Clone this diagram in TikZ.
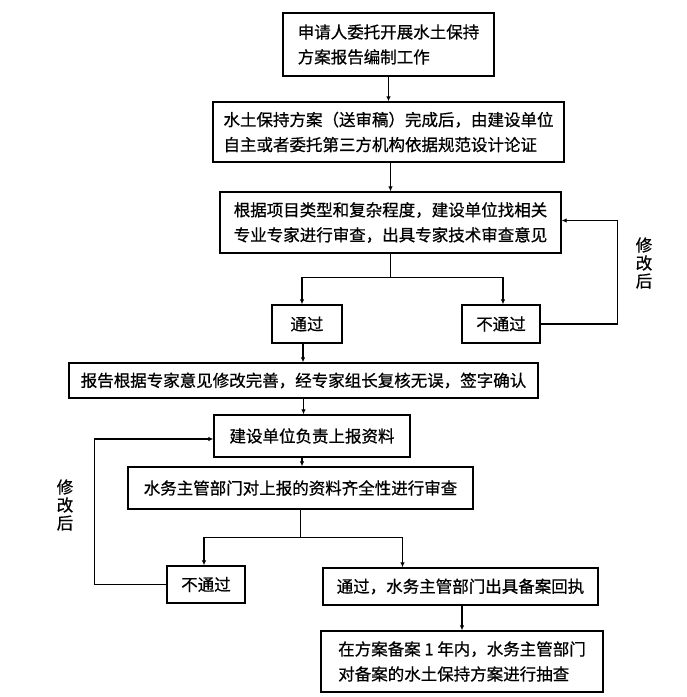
\documentclass[tikz,border=0pt]{standalone}
\usepackage{fontspec}
\newfontfamily\cjk[FakeBold=0.7]{Noto Sans CJK SC}
\usetikzlibrary{arrows.meta,calc}
\begin{document}
\begin{tikzpicture}[x=1pt,y=-1pt,
  box/.style={draw=black,line width=1.3pt,inner sep=0pt,align=left,
    font=\cjk\fontsize{16.5}{25}\selectfont},
  lbl/.style={inner sep=0pt,align=center,font=\cjk\fontsize{16.5}{18}\selectfont},
  arr/.style={line width=1.3pt,-{Latex[length=5pt,width=4.5pt]}},
  ln/.style={line width=1.3pt}]
\useasboundingbox (0,0) rectangle (687,697);
\fill[white] (0,0) rectangle (687,697);

\node[box,minimum width=211pt,minimum height=63pt] (b1) at (388.5,44.5)
  {申请人委托开展水土保持\\方案报告编制工作};
\node[box,minimum width=351pt,minimum height=60pt] (b2) at (388.5,132)
  {水土保持方案（送审稿）完成后，由建设单位\\自主或者委托第三方机构依据规范设计论证};
\node[box,minimum width=341pt,minimum height=61pt] (b3) at (390.5,222.5)
  {根据项目类型和复杂程度，建设单位找相关\\专业专家进行审查，出具专家技术审查意见};
\node[box,minimum width=70pt,minimum height=38pt] (p1) at (307,324) {通过};
\node[box,minimum width=78pt,minimum height=38pt] (f1) at (501,324) {不通过};
\node[box,minimum width=469pt,minimum height=35pt] (b4) at (303.5,380.5)
  {报告根据专家意见修改完善，经专家组长复核无误，签字确认};
\node[box,minimum width=196pt,minimum height=42pt] (b5) at (312,436) {建设单位负责上报资料};
\node[box,minimum width=345pt,minimum height=42pt] (b6) at (300.5,488)
  {水务主管部门对上报的资料齐全性进行审查};
\node[box,minimum width=78pt,minimum height=37pt] (f2) at (206,584.5) {不通过};
\node[box,minimum width=275pt,minimum height=37pt] (p2) at (460.5,586.5)
  {通过，水务主管部门出具备案回执};
\node[box,minimum width=282pt,minimum height=61pt] (b7) at (462,661.5)
  {在方案备案 1 年内，水务主管部门\\对备案的水土保持方案进行抽查};

\node[lbl] (l1) at (644,263) {修\\改\\后};
\node[lbl] (l2) at (65,505) {修\\改\\后};

% connectors
\draw[arr] (b1.south) -- (b1.south |- b2.north);
\draw[arr] (b2.south -| b3.north) -- (b3.north);
\draw[ln] (b3.south) -- ++(0,24) coordinate (s1);
\draw[arr] (s1) -| ([xshift=-5pt]p1.north);
\draw[arr] (s1) -| ([xshift=2pt]f1.north);
\draw[arr] (f1.east) -- ++(77,0) coordinate (r1) |- ([yshift=2pt]b3.east);
\draw[arr] ([xshift=-4pt]p1.south) -- ([xshift=-4pt]p1.south |- b4.north);
\draw[arr] (b4.south) -- (b4.south |- b5.north);
\draw[arr] ([xshift=-10pt]b5.south) -- ([xshift=-10pt]b5.south |- b6.north);
\draw[ln] (b6.south) -- ++(0,28) coordinate (s2);
\draw[arr] (s2) -| ([xshift=-2pt]f2.north);
\draw[arr] (s2) -| ([xshift=-58pt]p2.north);
\draw[arr] (f2.west) -- ++(-72,0) coordinate (r2) |- ([yshift=-3pt]b5.west);
\draw[arr] (p2.south -| b7.north) -- (b7.north);
\end{tikzpicture}
\end{document}
